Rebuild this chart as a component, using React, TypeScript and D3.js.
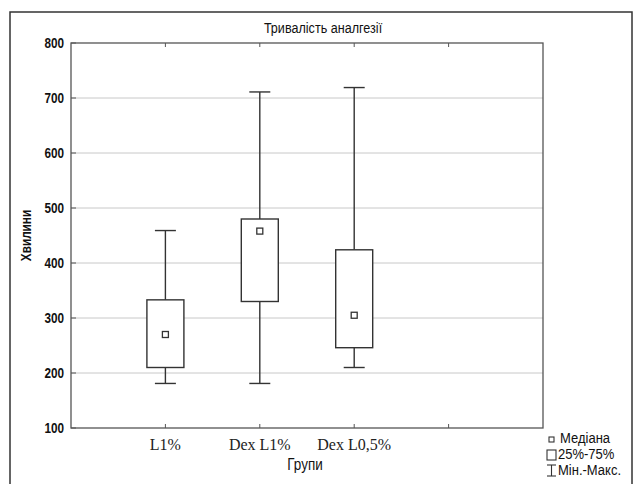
import React from "react";
import * as d3 from "d3";

const groups = ["L1%", "Dex L1%", "Dex L0,5%"];
const mins = [181, 181, 210];
const q1s = [210, 330, 246];
const medians = [270, 458, 305];
const q3s = [333, 480, 424];
const maxs = [459, 711, 719];
const yTicks = [100, 200, 300, 400, 500, 600, 700, 800];

const W = 642;
const H = 484;
const margin = { top: 43, right: 99, bottom: 56, left: 71 };
const sans = "'Liberation Sans', Arial, sans-serif";
const serif = "'Liberation Serif', 'Times New Roman', serif";

// Arial Narrow look: squeeze Liberation Sans horizontally
const NText = ({ x, y, anchor = "start", size = 13, bold = false, rotate = 0, children }: any) => (
  <text transform={`translate(${x},${y}) rotate(${rotate}) scale(0.84,1)`} textAnchor={anchor}
    fontFamily={sans} fontSize={size} fontWeight={bold ? "bold" : "normal"} fill="#111">
    {children}
  </text>
);

const App = () => {
  const x = d3.scaleLinear().domain([0, 5]).range([margin.left, W - margin.right]);
  const y = d3.scaleLinear().domain([100, 800]).range([H - margin.bottom, margin.top]);
  const boxW = 37;
  const capW = 21;
  const stroke = "#333";

  const data = groups.map((g, i) => ({
    g, pos: i + 1, min: mins[i], q1: q1s[i], med: medians[i], q3: q3s[i], max: maxs[i]
  }));

  return (
    <svg width={W} height={H} style={{ position: "absolute", left: 0, top: 0, background: "#fff" }}>
      <rect x={10} y={12} width={622} height={H} fill="none" stroke="#333" strokeWidth={1.5} />
      <NText x={323} y={33} anchor="middle" size={15}>Тривалість аналгезії</NText>

      {/* grid */}
      {yTicks.filter(t => t > 100 && t < 800).map(t => (
        <line key={t} x1={x(0)} x2={x(5)} y1={y(t)} y2={y(t)} stroke="#c8c8c8" strokeWidth={1} />
      ))}

      {/* y ticks */}
      {yTicks.map(t => (
        <g key={t}>
          <line x1={x(0)} x2={x(0) + 5} y1={y(t)} y2={y(t)} stroke="#555" />
          <NText x={x(0) - 7} y={y(t) + 5} anchor="end" size={14} bold>{t}</NText>
        </g>
      ))}

      {/* x ticks top and bottom */}
      {[1, 2, 3, 4].map(k => (
        <g key={k}>
          <line x1={x(k)} x2={x(k)} y1={y(800)} y2={y(800) + 4} stroke="#555" />
          <line x1={x(k)} x2={x(k)} y1={y(100)} y2={y(100) - 4} stroke="#555" />
        </g>
      ))}

      {data.map(d => (
        <text key={d.g} x={x(d.pos)} y={H - margin.bottom + 22} textAnchor="middle"
          fontFamily={serif} fontSize={16} fill="#222">{d.g}</text>
      ))}

      {/* boxes */}
      {data.map(d => {
        const cx = x(d.pos);
        return (
          <g key={d.g} stroke={stroke} strokeWidth={1.4} fill="#fff">
            <line x1={cx} x2={cx} y1={y(d.max)} y2={y(d.q3)} />
            <line x1={cx} x2={cx} y1={y(d.q1)} y2={y(d.min)} />
            <line x1={cx - capW / 2} x2={cx + capW / 2} y1={y(d.max)} y2={y(d.max)} />
            <line x1={cx - capW / 2} x2={cx + capW / 2} y1={y(d.min)} y2={y(d.min)} />
            <rect x={cx - boxW / 2} y={y(d.q3)} width={boxW} height={y(d.q1) - y(d.q3)} />
            <rect x={cx - 3} y={y(d.med) - 3} width={6} height={6} strokeWidth={1.3} />
          </g>
        );
      })}

      {/* plot frame */}
      <rect x={x(0)} y={y(800)} width={x(5) - x(0)} height={y(100) - y(800)} fill="none"
        stroke="#555" strokeWidth={1.3} />

      <NText x={305} y={470} anchor="middle" size={16}>Групи</NText>
      <NText x={31} y={(y(800) + y(100)) / 2} anchor="middle" size={14} bold rotate={-90}>Хвилини</NText>

      {/* legend */}
      <rect x={549} y={437} width={5} height={5} fill="#fff" stroke="#333" strokeWidth={1.1} />
      <NText x={560} y={443} size={15.5}>Медіана</NText>
      <rect x={547} y={450} width={9} height={10} fill="#fff" stroke="#333" strokeWidth={1.1} />
      <NText x={558} y={459} size={15.5}>25%-75%</NText>
      <g stroke="#333" strokeWidth={1.1}>
        <line x1={547} x2={556} y1={465} y2={465} />
        <line x1={551.5} x2={551.5} y1={465} y2={476} />
        <line x1={547} x2={556} y1={476} y2={476} />
      </g>
      <NText x={558} y={475} size={15.5}>Мін.-Макс.</NText>
    </svg>
  );
};

export default App;
